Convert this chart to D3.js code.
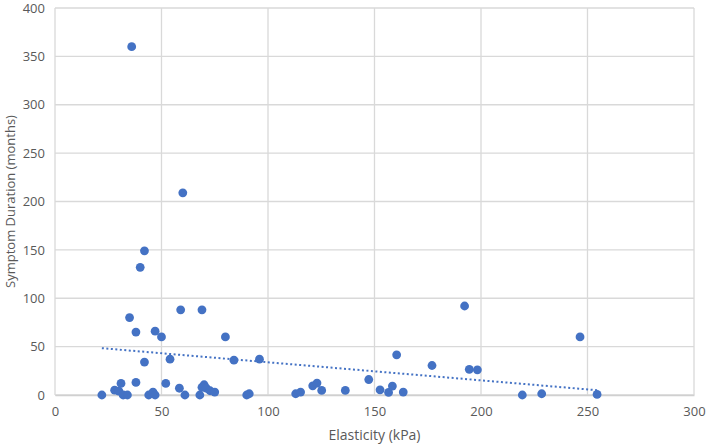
<!DOCTYPE html>
<html>
<head>
<meta charset="utf-8">
<script src="https://cdn.jsdelivr.net/npm/d3@7"></script>
<style>
  body { margin: 0; background: #fff; }
  text { font-family: "Open Sans", "Noto Sans", sans-serif; fill: #595959; }
</style>
</head>
<body>
<div id="chart"></div>
<script>
// elasticity (kPa) and symptom duration (months)
var elasticity = [36, 60, 42, 40, 22, 35, 38, 47, 50, 59, 69, 80, 42, 54, 84, 96,
  28, 30, 31, 32, 34, 38, 44, 46, 47, 52, 58.4, 61, 68, 70, 69, 71, 72.8, 75, 90, 91.2,
  192.3, 160.4, 177, 194.5, 198.3, 147.3, 113, 115.3, 121, 123, 125.2, 136.3, 152.6,
  156.6, 158.4, 163.5, 246.5, 219.4, 228.5, 254.5];
var duration = [360, 209, 149, 132, 0, 80, 65, 66, 60, 88, 88, 60, 34, 37, 36, 37,
  5, 4, 12, 0, 0, 13, 0, 3, 0, 12, 7, 0, 0, 10.6, 8, 7, 4.4, 3, 0, 1.3,
  92, 41.5, 30.5, 26.5, 26, 16, 1.3, 3, 9.5, 12.3, 4.7, 4.7, 5.4,
  2.7, 9.2, 3, 60, 0, 1.3, 0.6];
var xTicks = [0, 50, 100, 150, 200, 250, 300];
var yTicks = [0, 50, 100, 150, 200, 250, 300, 350, 400];

var margin = {top: 8, right: 14, bottom: 53, left: 55};
var width = 708 - margin.left - margin.right;
var height = 448 - margin.top - margin.bottom;

var data = elasticity.map(function(e, i){ return {x: e, y: duration[i]}; });

var x = d3.scaleLinear().domain([0, 300]).range([0, width]);
var y = d3.scaleLinear().domain([0, 400]).range([height, 0]);

var svg = d3.select("#chart")
  .append("svg")
    .attr("width", 708)
    .attr("height", 448)
  .append("g")
    .attr("transform", "translate(" + [margin.left, margin.top] + ")");

// gridlines
svg.append("g")
  .selectAll("line.v")
  .data(xTicks)
  .enter().append("line")
    .attr("x1", function(d){ return x(d); })
    .attr("x2", function(d){ return x(d); })
    .attr("y1", 0).attr("y2", height)
    .attr("stroke", "#d9d9d9").attr("stroke-width", 1.3);

svg.append("g")
  .selectAll("line.h")
  .data(yTicks)
  .enter().append("line")
    .attr("y1", function(d){ return y(d); })
    .attr("y2", function(d){ return y(d); })
    .attr("x1", 0).attr("x2", width)
    .attr("stroke", "#d9d9d9").attr("stroke-width", 1.3);

var xAxis = d3.axisBottom(x).tickValues(xTicks).tickSize(0).tickPadding(12);
var yAxis = d3.axisLeft(y).tickValues(yTicks).tickSize(0).tickPadding(10);

svg.append("g")
  .attr("class", "x axis")
  .attr("transform", "translate(0," + height + ")")
  .call(xAxis)
  .call(function(g){ g.select(".domain").attr("stroke", "#d0d0d0").attr("stroke-width", 1.3); });

svg.append("g")
  .attr("class", "y axis")
  .call(yAxis)
  .call(function(g){ g.select(".domain").remove(); });

svg.selectAll(".axis text")
  .attr("font-family", "'Open Sans', 'Noto Sans', sans-serif")
  .attr("font-size", "13px")
  .attr("fill", "#595959");

// linear trendline (least squares), across the x range of the data
var mx = d3.mean(data, function(d){ return d.x; });
var my = d3.mean(data, function(d){ return d.y; });
var sxy = d3.sum(data, function(d){ return (d.x - mx) * (d.y - my); });
var sxx = d3.sum(data, function(d){ return (d.x - mx) * (d.x - mx); });
var slope = sxy / sxx;
var icpt = my - slope * mx;
var ext = d3.extent(data, function(d){ return d.x; });

var line = d3.line()
  .x(function(d){ return x(d); })
  .y(function(d){ return y(icpt + slope * d); });

svg.append("path")
  .datum(ext)
  .attr("d", line)
  .attr("fill", "none")
  .attr("stroke", "#4472c4")
  .attr("stroke-width", 2)
  .attr("stroke-dasharray", "2,2.5");

svg.selectAll("circle")
  .data(data)
  .enter().append("circle")
    .attr("cx", function(d){ return x(d.x); })
    .attr("cy", function(d){ return y(d.y); })
    .attr("r", 4.4)
    .attr("fill", "#4472c4");

svg.append("text")
  .attr("transform", "translate(" + (width / 2) + "," + (height + 45) + ")")
  .attr("text-anchor", "middle")
  .attr("font-size", "14px")
  .text("Elasticity (kPa)");

svg.append("text")
  .attr("transform", "translate(-40," + (height / 2) + ")rotate(-90)")
  .attr("text-anchor", "middle")
  .attr("font-size", "13px")
  .text("Symptom Duration (months)");
</script>
</body>
</html>
